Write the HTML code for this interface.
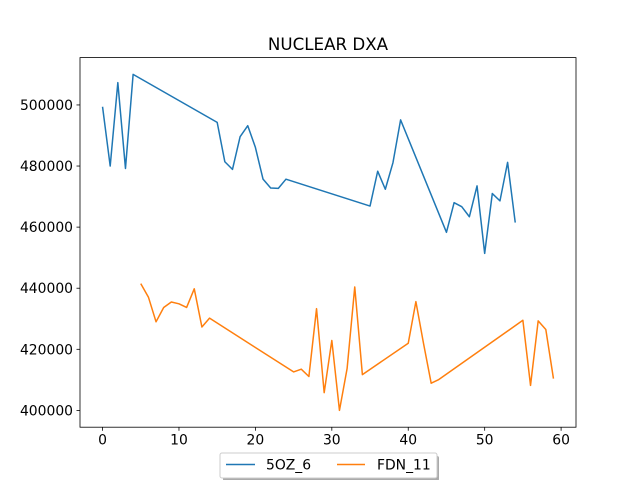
<!DOCTYPE html>
<html><head><meta charset="utf-8"><style>
body{margin:0;background:#fff;font-family:"DejaVu Sans","Liberation Sans",sans-serif}
svg text{font-family:"DejaVu Sans","Liberation Sans",sans-serif}
</style></head><body>
<svg id="chart" width="640" height="480" xmlns="http://www.w3.org/2000/svg">
<rect width="640" height="480" fill="#fff"/>
<text x="328" y="50" font-size="16.7" text-anchor="middle" fill="#000">NUCLEAR DXA</text>
<g id="plot"></g>
<g>
<rect x="223" y="456" width="216" height="25" rx="2" fill="#555" opacity="0.5"/>
<rect x="220" y="453" width="217" height="25" rx="2" fill="#fff" stroke="#ccc"/>
<line x1="226" y1="464.5" x2="255" y2="464.5" stroke="#1f77b4" stroke-width="1.5"/>
<text x="266" y="469.5" font-size="13.9">5OZ_6</text>
<line x1="337" y1="464.5" x2="365" y2="464.5" stroke="#ff7f0e" stroke-width="1.5"/>
<text x="377" y="469.5" font-size="13.9">FDN_11</text>
</g>
</svg>
<script>
const xBlue=[0,1,2,3,4,15,16,17,18,19,20,21,22,23,24,35,36,37,38,39,45,46,47,48,49,50,51,52,53,54];
const yBlue=[499400,480000,507300,479200,510000,494300,481400,478900,489600,493200,486100,475700,472800,472700,475700,466900,478300,472400,481100,495100,458300,468000,466700,463400,473500,451400,471000,468600,481200,461500];
const xOrange=[5,6,7,8,9,10,11,12,13,14,25,26,27,28,29,30,31,32,33,34,40,41,42,43,44,55,56,57,58,59];
const yOrange=[441500,437100,429000,433700,435500,434900,433700,439800,427300,430200,412600,413500,411100,433300,405800,422900,400000,413700,440400,411700,422000,435600,421900,408900,410100,429500,408200,429300,426500,410400];
const xTicks=[0,10,20,30,40,50,60];
const yTicks=[400000,420000,440000,460000,480000,500000];
const L=80,R=576,T=57.6,B=427.2;
const allX=xBlue.concat(xOrange),allY=yBlue.concat(yOrange);
let x0=Math.min(...allX),x1=Math.max(...allX),y0=Math.min(...allY),y1=Math.max(...allY);
const dx=(x1-x0)*0.05,dy=(y1-y0)*0.05;x0-=dx;x1+=dx;y0-=dy;y1+=dy;
const sx=v=>L+(v-x0)/(x1-x0)*(R-L);
const sy=v=>B-(v-y0)/(y1-y0)*(B-T);
const NS="http://www.w3.org/2000/svg",g=document.getElementById('plot');
function mk(t,a){const e=document.createElementNS(NS,t);for(const k in a)e.setAttribute(k,a[k]);g.appendChild(e);return e;}
function series(xs,ys,c,n){
 const p=mk('polyline',{points:xs.map((x,i)=>sx(x)+','+sy(ys[i])).join(' '),fill:'none',stroke:c,'stroke-width':1.5,'stroke-linejoin':'round'});
 
 
}
series(xBlue,yBlue,'#1f77b4','series-5oz6-line');
series(xOrange,yOrange,'#ff7f0e','series-fdn11-line');
const fr=mk('rect',{x:L,y:T,width:R-L,height:B-T,fill:'none',stroke:'#000','stroke-width':0.8});


xTicks.forEach(v=>{const x=sx(v);
 const l=mk('line',{x1:x,y1:B,x2:x,y2:B+3.5,stroke:'#000','stroke-width':0.8});
 
 
 const t=mk('text',{x:x,y:B+17.5,'font-size':13.9,'text-anchor':'middle'});t.textContent=v;
 
 });
yTicks.forEach(v=>{const y=sy(v);
 const l=mk('line',{x1:L-3.5,y1:y,x2:L,y2:y,stroke:'#000','stroke-width':0.8});
 
 
 const t=mk('text',{x:L-7,y:y+5,'font-size':13.9,'text-anchor':'end'});t.textContent=v;
 
 });
</script>
</body></html>
